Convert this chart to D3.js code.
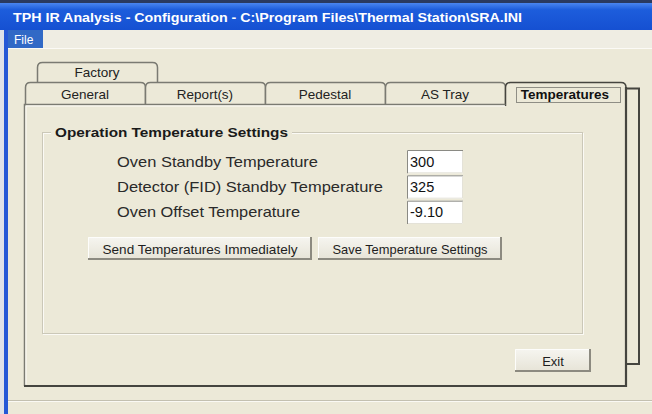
<!DOCTYPE html>
<html>
<head>
<meta charset="utf-8">
<script src="https://cdn.jsdelivr.net/npm/d3@7"></script>
<style>
  body { margin: 0; background: #ECE9D8; }
  svg { display: block; }
</style>
</head>
<body>
<div id="dialog"></div>
<script>
'use strict';
// content of the dialog
const windowTitle = "TPH IR Analysis - Configuration - C:\\Program Files\\Thermal Station\\SRA.INI";
const menuItems = ["File"];
const tabRowBack = ["Factory"];
const tabRowFront = ["General", "Report(s)", "Pedestal", "AS Tray", "Temperatures"];
const activeTab = "Temperatures";
const groupTitle = "Operation Temperature Settings";
const fieldLabels = ["Oven Standby Temperature", "Detector (FID) Standby Temperature", "Oven Offset Temperature"];
const fieldValues = ["300", "325", "-9.10"];
const actionButtons = ["Send Temperatures Immediately", "Save Temperature Settings"];
const exitLabel = "Exit";

function drawDialog(divId) {
  let width = 652, height = 414;
  let font = "'Liberation Sans', Arial, sans-serif";
  let beige = "#ECE9D8", tabLine = "#7a7a72", darkLine = "#45453f";

  let svg = d3.select("#" + divId).append("svg")
    .attr("width", width)
    .attr("height", height)
    .style("font-family", font);

  let defs = svg.append("defs");
  let grad = defs.append("linearGradient").attr("id", "titleGrad")
    .attr("x1", 0).attr("y1", 0).attr("x2", 0).attr("y2", 1);
  grad.append("stop").attr("offset", "0%").attr("stop-color", "#4a86f0");
  grad.append("stop").attr("offset", "25%").attr("stop-color", "#1d5ddc");
  grad.append("stop").attr("offset", "100%").attr("stop-color", "#1550d2");
  let btnGrad = defs.append("linearGradient").attr("id", "btnGrad")
    .attr("x1", 0).attr("y1", 0).attr("x2", 0).attr("y2", 1);
  btnGrad.append("stop").attr("offset", "0%").attr("stop-color", "#f6f5f0");
  btnGrad.append("stop").attr("offset", "100%").attr("stop-color", "#e6e3d6");

  svg.append("rect").attr("width", width).attr("height", height).attr("fill", beige);

  // title bar
  svg.append("rect").attr("x", 0).attr("y", 0).attr("width", width).attr("height", 3).attr("fill", "#2a3a60");
  svg.append("rect").attr("x", 0).attr("y", 3).attr("width", width).attr("height", 27).attr("fill", "url(#titleGrad)");
  svg.append("text")
    .attr("x", 13).attr("y", 22)
    .attr("fill", "#fff")
    .attr("font-weight", "bold")
    .attr("font-size", 13)
    .attr("textLength", 509)
    .attr("lengthAdjust", "spacingAndGlyphs")
    .text(windowTitle);

  // menu bar
  svg.append("rect").attr("x", 0).attr("y", 30).attr("width", width).attr("height", 18).attr("fill", "#efede3");
  svg.append("line").attr("x1", 8).attr("x2", width).attr("y1", 48.5).attr("y2", 48.5).attr("stroke", "#fbfaf6");
  let menu = svg.selectAll("g.menu").data(menuItems).enter().append("g").attr("class", "menu");
  menu.append("rect").attr("x", 4).attr("y", 30).attr("width", 39).attr("height", 18).attr("fill", "#3169c6");
  menu.append("text").attr("x", 14).attr("y", 44).attr("fill", "#fff").attr("font-size", 12).text(d => d);

  // window frame on the left and the status line
  svg.append("rect").attr("x", 0).attr("y", 30).attr("width", 4).attr("height", height - 30).attr("fill", "#dfe2e8");
  svg.append("rect").attr("x", 4).attr("y", 30).attr("width", 4).attr("height", height - 30).attr("fill", "#2558d6");
  svg.append("line").attr("x1", 8).attr("x2", width).attr("y1", 400.5).attr("y2", 400.5).attr("stroke", "#c3c0b0");
  svg.append("line").attr("x1", 8).attr("x2", width).attr("y1", 401.5).attr("y2", 401.5).attr("stroke", "#faf9f4");

  // tabs
  let panel = { left: 24, right: 626, top: 104, bottom: 386 };
  let xTab = d3.scaleBand().domain(tabRowFront).range([25, 625]);
  let tabW = xTab.bandwidth();
  let xTabBack = d3.scaleBand().domain(tabRowBack).range([37, 37 + tabW]);
  let r = 5;
  function tabPath(x0, x1, yt, yb) {
    return "M" + x0 + "," + yb + "L" + x0 + "," + (yt + r) + "Q" + x0 + "," + yt + " " + (x0 + r) + "," + yt
      + "L" + (x1 - r) + "," + yt + "Q" + x1 + "," + yt + " " + x1 + "," + (yt + r) + "L" + x1 + "," + yb;
  }

  // frame of the back row
  svg.append("path")
    .attr("d", "M" + panel.right + ",88.5L639,88.5L639,364L" + panel.right + ",364")
    .attr("fill", "none").attr("stroke", darkLine).attr("stroke-width", 2);

  let back = svg.selectAll("g.tabBack").data(tabRowBack).enter().append("g").attr("class", "tabBack");
  back.append("path")
    .attr("d", d => tabPath(xTabBack(d) + 0.5, xTabBack(d) + tabW + 0.5, 62.5, 82.5))
    .attr("fill", beige).attr("stroke", tabLine).attr("stroke-width", 1.5);
  back.append("text")
    .attr("x", d => xTabBack(d) + tabW / 2).attr("y", 77)
    .attr("text-anchor", "middle").attr("font-size", 13.5).attr("fill", "#222")
    .text(d => d);

  let front = svg.selectAll("g.tab").data(tabRowFront).enter().append("g").attr("class", "tab");
  front.append("path")
    .attr("d", d => tabPath(xTab(d) + 0.5, xTab(d) + tabW + (d === activeTab ? 1 : 0.5), 82.5, panel.top + (d === activeTab ? 2 : 0)))
    .attr("fill", beige)
    .attr("stroke", d => d === activeTab ? darkLine : tabLine)
    .attr("stroke-width", 1.5);
  front.append("text")
    .attr("x", d => xTab(d) + tabW / 2).attr("y", 99)
    .attr("text-anchor", "middle")
    .attr("font-size", 13.5)
    .attr("font-weight", d => d === activeTab ? "bold" : "normal")
    .attr("fill", d => d === activeTab ? "#111" : "#222")
    .text(d => d);
  // focus rectangle
  svg.append("rect")
    .attr("x", xTab(activeTab) + 11.5).attr("y", 87.5)
    .attr("width", tabW - 16).attr("height", 15)
    .attr("fill", "none").attr("stroke", "#333").attr("stroke-dasharray", "1,1");

  // tab panel
  svg.append("path")
    .attr("d", "M" + (xTab(activeTab) + 0.5) + "," + (panel.top + 0.5) + "L" + (panel.left + 0.5) + "," + (panel.top + 0.5)
      + "L" + (panel.left + 0.5) + "," + panel.bottom)
    .attr("fill", "none").attr("stroke", tabLine).attr("stroke-width", 1.5);
  svg.append("path")
    .attr("d", "M" + (panel.left + 2) + "," + (panel.bottom - 1.5) + "L" + (panel.left + 2) + "," + (panel.top + 2)
      + "L" + xTab(activeTab) + "," + (panel.top + 2))
    .attr("fill", "none").attr("stroke", "#fcfcf8").attr("stroke-width", 1);
  svg.append("path")
    .attr("d", "M" + panel.left + "," + panel.bottom + "L" + panel.right + "," + panel.bottom + "L" + panel.right + ",87")
    .attr("fill", "none").attr("stroke", darkLine).attr("stroke-width", 2.2);

  // group box
  let group = { left: 42, right: 582, top: 132, bottom: 333 };
  svg.append("rect")
    .attr("x", group.left + 1.5).attr("y", group.top + 1.5)
    .attr("width", group.right - group.left).attr("height", group.bottom - group.top)
    .attr("fill", "none").attr("stroke", "#fbfaf5");
  svg.append("rect")
    .attr("x", group.left + 0.5).attr("y", group.top + 0.5)
    .attr("width", group.right - group.left).attr("height", group.bottom - group.top)
    .attr("fill", "none").attr("stroke", "#cbc8b8");
  svg.append("rect").attr("x", 51).attr("y", 124).attr("width", 241).attr("height", 16).attr("fill", beige);
  svg.append("text")
    .attr("x", 55).attr("y", 137)
    .attr("font-weight", "bold").attr("font-size", 13.5).attr("fill", "#1a1a1a")
    .attr("textLength", 233).attr("lengthAdjust", "spacingAndGlyphs")
    .text(groupTitle);

  // labelled fields
  let yField = d3.scaleBand().domain(fieldLabels).range([150, 224]).paddingInner(0.08);
  let labelWidth = [201, 266, 183];
  let fields = svg.selectAll("g.field").data(fieldLabels).enter().append("g").attr("class", "field")
    .attr("transform", d => "translate(0," + yField(d) + ")");
  let bh = yField.bandwidth();
  fields.append("text")
    .attr("x", 117).attr("y", bh / 2 + 5)
    .attr("font-size", 14.5).attr("fill", "#2a2a2a")
    .attr("textLength", (d, i) => labelWidth[i]).attr("lengthAdjust", "spacingAndGlyphs")
    .text(d => d);
  fields.append("rect")
    .attr("x", 407).attr("y", 0).attr("width", 56).attr("height", bh)
    .attr("fill", "#fff");
  fields.append("path")
    .attr("d", "M407.5," + bh + "L407.5,0.5L463,0.5")
    .attr("fill", "none").attr("stroke", "#8a8a84");
  fields.append("path")
    .attr("d", "M408," + (bh - 0.5) + "L462.5," + (bh - 0.5) + "L462.5,1")
    .attr("fill", "none").attr("stroke", "#e4e2d8");
  fields.append("text")
    .attr("x", 410).attr("y", bh / 2 + 5)
    .attr("font-size", 14.5).attr("fill", "#111")
    .text((d, i) => fieldValues[i]);

  // buttons
  function button(x0, x1, y0, y1, label, size, fit) {
    let g = svg.append("g");
    g.append("rect").attr("x", x0).attr("y", y0).attr("width", x1 - x0).attr("height", y1 - y0).attr("fill", "url(#btnGrad)");
    g.append("path").attr("d", "M" + (x0 + 0.5) + "," + y1 + "L" + (x0 + 0.5) + "," + (y0 + 0.5) + "L" + x1 + "," + (y0 + 0.5))
      .attr("fill", "none").attr("stroke", "#fdfdfb");
    g.append("path").attr("d", "M" + x0 + "," + (y1 - 1) + "L" + (x1 - 1) + "," + (y1 - 1) + "L" + (x1 - 1) + "," + y0)
      .attr("fill", "none").attr("stroke", "#8c8a80").attr("stroke-width", 2);
    let t = g.append("text")
      .attr("x", (x0 + x1) / 2).attr("y", (y0 + y1) / 2 + 5)
      .attr("text-anchor", "middle").attr("font-size", size).attr("fill", "#1e1e1e")
      .text(label);
    if (fit) t.attr("textLength", fit).attr("lengthAdjust", "spacingAndGlyphs");
    return g;
  }
  let xButton = d3.scaleOrdinal().domain(actionButtons).range([[88, 312], [318, 502]]);
  let fitButton = d3.scaleOrdinal().domain(actionButtons).range([195, 155]);
  actionButtons.forEach(function (b) {
    let ext = xButton(b);
    button(ext[0], ext[1], 237, 260, b, 13.5, fitButton(b));
  });
  button(515, 591, 349, 372, exitLabel, 13);
}

drawDialog("dialog");
</script>
</body>
</html>
